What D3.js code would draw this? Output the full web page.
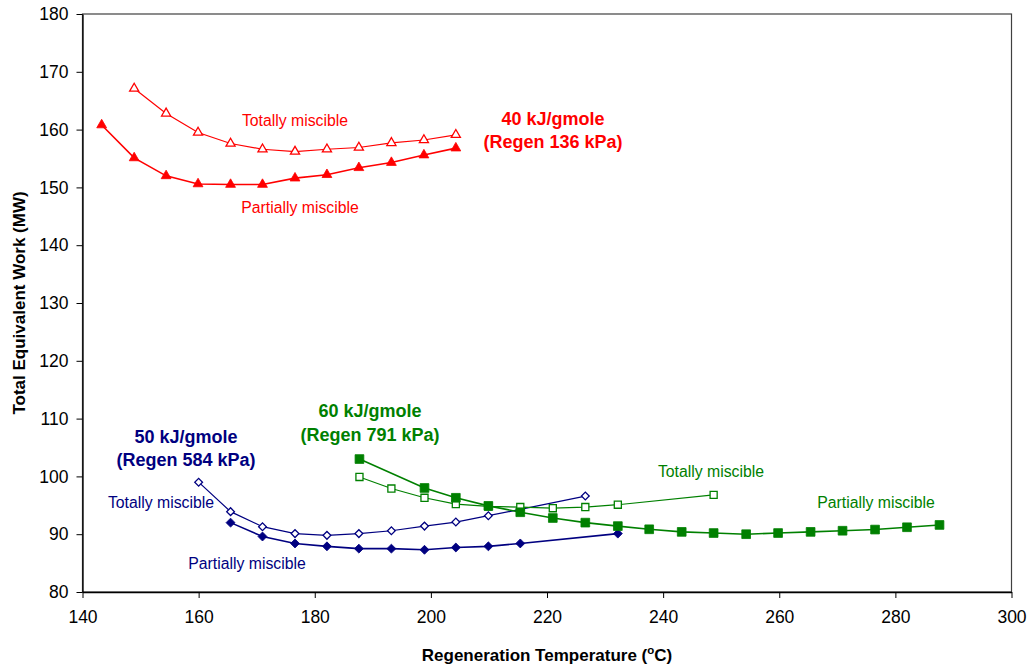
<!DOCTYPE html>
<html><head><meta charset="utf-8">
<script src="https://cdn.jsdelivr.net/npm/d3@7"></script>
<style>body{margin:0;background:#fff}svg{display:block}text{font-family:"Liberation Sans",Arial,sans-serif}</style>
</head><body><svg id="c" width="1030" height="668"></svg>
<script>
// Data
const xTicks = [140,160,180,200,220,240,260,280,300];
const yTicks = [80,90,100,110,120,130,140,150,160,170,180];

const red40TotalT = [148.9,154.4,159.9,165.5,171.0,176.6,182.1,187.6,193.2,198.8,204.3];
const red40TotalW = [167.1,162.8,159.5,157.6,156.6,156.2,156.6,156.9,157.7,158.2,159.1];
const red40PartT = [143.3,148.9,154.4,159.9,165.5,171.0,176.6,182.1,187.6,193.2,198.8,204.3];
const red40PartW = [160.8,155.1,152.0,150.6,150.5,150.5,151.6,152.2,153.4,154.3,155.6,156.8];

const blue50TotalT = [160.0,165.5,171.0,176.6,182.1,187.6,193.2,198.9,204.3,209.9,215.4,226.6];
const blue50TotalW = [99.0,93.9,91.3,90.1,89.8,90.1,90.6,91.4,92.1,93.2,94.3,96.6];
const blue50PartT = [165.5,171.0,176.6,182.1,187.6,193.2,198.9,204.3,209.9,215.4,232.2];
const blue50PartW = [92.0,89.6,88.4,87.9,87.5,87.5,87.3,87.7,87.9,88.4,90.1];

const green60TotalT = [187.7,193.2,198.9,204.3,209.9,215.4,221.0,226.6,232.2,248.7];
const green60TotalW = [99.9,97.9,96.3,95.2,94.8,94.7,94.5,94.7,95.1,96.8];
const green60PartT = [187.7,198.9,204.3,209.9,215.4,221.0,226.6,232.2,237.6,243.2,248.7,254.3,259.8,265.4,270.9,276.5,282.0,287.6];
const green60PartW = [103.0,98.0,96.3,94.9,93.8,92.8,92.0,91.4,90.85,90.4,90.2,90.0,90.2,90.4,90.6,90.8,91.2,91.6];

const series = [
  {t:red40TotalT, w:red40TotalW, color:"#FF0000", shape:"tri", fill:false},
  {t:red40PartT, w:red40PartW, color:"#FF0000", shape:"tri", fill:true},
  {t:blue50TotalT, w:blue50TotalW, color:"#000080", shape:"dia", fill:false},
  {t:blue50PartT, w:blue50PartW, color:"#000080", shape:"dia", fill:true},
  {t:green60TotalT, w:green60TotalW, color:"#008000", shape:"sq", fill:false},
  {t:green60PartT, w:green60PartW, color:"#008000", shape:"sq", fill:true}
];

const labels = [
  {text:"40 kJ/gmole", x:553, y:125, color:"#FF0000", bold:true},
  {text:"(Regen 136 kPa)", x:553, y:148, color:"#FF0000", bold:true},
  {text:"Totally miscible", x:295, y:126, color:"#FF0000", bold:false},
  {text:"Partially miscible", x:300, y:213, color:"#FF0000", bold:false},
  {text:"50 kJ/gmole", x:186, y:443, color:"#000080", bold:true},
  {text:"(Regen 584 kPa)", x:186, y:466, color:"#000080", bold:true},
  {text:"Totally miscible", x:161, y:508, color:"#000080", bold:false},
  {text:"Partially miscible", x:247, y:569, color:"#000080", bold:false},
  {text:"60 kJ/gmole", x:370, y:417, color:"#008000", bold:true},
  {text:"(Regen 791 kPa)", x:370, y:441, color:"#008000", bold:true},
  {text:"Totally miscible", x:711, y:477, color:"#008000", bold:false},
  {text:"Partially miscible", x:876, y:508, color:"#008000", bold:false}
];

(function(){
const svg = d3.select("#c");
const mL = 82.5, mR = 1011.5, mT = 14, mB = 592;
const x = d3.scaleLinear().domain([140,300]).range([mL,mR]);
const y = d3.scaleLinear().domain([80,180]).range([mB,mT]);

svg.append("rect").attr("x",mL).attr("y",mT).attr("width",mR-mL).attr("height",mB-mT)
  .attr("fill","none").attr("stroke","#404040").attr("stroke-width",1.2);

const xAxis = svg.append("g").attr("transform",`translate(0,${mB})`)
  .call(d3.axisBottom(x).tickValues(xTicks).tickSize(6).tickSizeOuter(0).tickPadding(13).tickFormat(d3.format("d")));
const yAxis = svg.append("g").attr("transform",`translate(${mL},0)`)
  .call(d3.axisLeft(y).tickValues(yTicks).tickSize(6).tickSizeOuter(0).tickPadding(8).tickFormat(d3.format("d")));
[xAxis,yAxis].forEach(g=>{
  g.selectAll("path").attr("stroke","#000").attr("stroke-width",1.3);
  g.selectAll("line").attr("stroke","#000");
  g.selectAll("text").attr("font-size",17.5).attr("font-family","Liberation Sans, Arial, sans-serif").attr("fill","#000");
});

const xt = svg.append("text").attr("x",547).attr("y",661).attr("text-anchor","middle")
  .attr("font-size",17).attr("font-weight","bold");
xt.append("tspan").text("Regeneration Temperature (");
xt.append("tspan").text("o").attr("font-size",11.5).attr("dy",-7);
xt.append("tspan").text("C)").attr("dy",7);
svg.append("text").attr("transform","translate(25,303) rotate(-90)").attr("text-anchor","middle")
  .attr("font-size",17).attr("font-weight","bold").text("Total Equivalent Work (MW)");

const line = d3.line().x(d=>x(d[0])).y(d=>y(d[1]));
series.forEach(s=>{
  const pts = s.t.map((t,i)=>[t,s.w[i]]);
  svg.append("path").datum(pts).attr("d",line).attr("fill","none")
    .attr("stroke",s.color).attr("stroke-width", s.fill?1.6:1.2);
  let sym, size, rot = 0;
  if(s.shape==="tri"){ sym=d3.symbolTriangle; size = s.fill?42:36; }
  else if(s.shape==="dia"){ sym=d3.symbolSquare; size = s.fill?40:30; rot = 45; }
  else { sym=d3.symbolSquare; size = s.fill?76:50; }
  const gen = d3.symbol().type(sym).size(size);
  svg.append("g").selectAll("path").data(pts).join("path")
    .attr("transform",d=>`translate(${x(d[0])},${y(d[1])}) rotate(${rot})`)
    .attr("d",gen)
    .attr("fill", s.fill? s.color : "#fff")
    .attr("stroke", s.color).attr("stroke-width", s.fill?0.8:1.3);
});

labels.forEach(l=>{
  svg.append("text").attr("x",l.x).attr("y",l.y).attr("text-anchor","middle")
    .attr("fill",l.color).attr("font-size", l.bold?18:15.8)
    .attr("font-weight", l.bold?"bold":"normal").text(l.text);
});
})();
</script></body></html>
